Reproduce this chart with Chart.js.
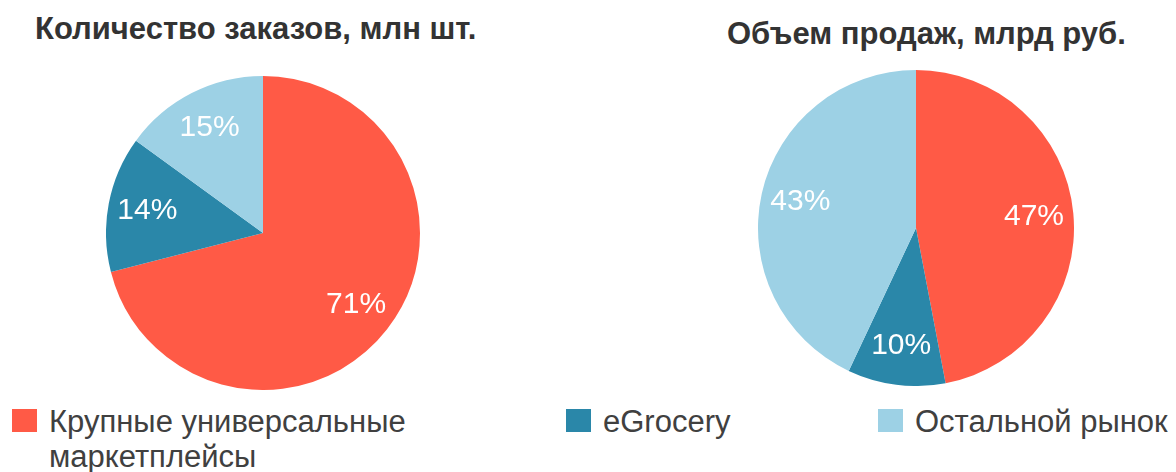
<!DOCTYPE html>
<html>
<head>
<meta charset="utf-8">
<script src="https://cdn.jsdelivr.net/npm/chart.js@4.4.0/dist/chart.umd.min.js"></script>
<style>
  body { margin: 0; background: #fff; font-family: "Liberation Sans", Arial, sans-serif; }
  #wrap { position: relative; width: 1176px; height: 472px; overflow: hidden; }
  .title { position: absolute; font-weight: bold; font-size: 31px; color: #333; white-space: nowrap; line-height: 1; }
  .box { position: absolute; }
  .legend { position: absolute; font-size: 31px; color: #404040; line-height: 35px; }
  .legend span.sq { position: absolute; left: 0; top: 5px; width: 25px; height: 23px; }
  .legend span.tx { position: absolute; white-space: nowrap; }
</style>
</head>
<body>
<div id="wrap">
  <div class="title" id="t1" style="left:35px; top:13px;"></div>
  <div class="title" id="t2" style="left:727px; top:18px;"></div>
  <div class="box" style="left:106px; top:76px; width:314px; height:314px;"><canvas id="orders"></canvas></div>
  <div class="box" style="left:758px; top:70px; width:316px; height:316px;"><canvas id="sales"></canvas></div>
  <div id="legend"></div>
</div>
<script>
const titles = ["Количество заказов, млн шт.", "Объем продаж, млрд руб."];
const categories = ["Крупные универсальные маркетплейсы", "eGrocery", "Остальной рынок"];
const ordersShare = [71, 14, 15];
const salesShare = [47, 10, 43];
const colors = ["#FF5A46", "#2A87A9", "#9DD1E5"];

document.getElementById("t1").textContent = titles[0];
document.getElementById("t2").textContent = titles[1];

// легенда снизу, общая для двух графиков
const legendPos = [
  { left: 12, width: 420 },
  { left: 566, width: 250 },
  { left: 878, width: 300 },
];
const legend = document.getElementById("legend");
categories.forEach((name, i) => {
  const item = document.createElement("div");
  item.className = "legend";
  item.style.left = legendPos[i].left + "px";
  item.style.top = "404px";
  item.style.width = legendPos[i].width + "px";
  const sq = document.createElement("span");
  sq.className = "sq";
  sq.style.background = colors[i];
  const tx = document.createElement("span");
  tx.className = "tx";
  tx.style.left = "37px";
  tx.innerHTML = i === 0 ? "Крупные универсальные<br>маркетплейсы" : name;
  item.appendChild(sq);
  item.appendChild(tx);
  legend.appendChild(item);
});

// подписи процентов внутри секторов
const sliceLabels = {
  id: "sliceLabels",
  afterDatasetsDraw(chart) {
    const ctx = chart.ctx;
    const data = chart.data.datasets[0].data;
    chart.getDatasetMeta(0).data.forEach((arc, i) => {
      const mid = (arc.startAngle + arc.endAngle) / 2;
      const r = arc.outerRadius * 0.75;
      const x = arc.x + Math.cos(mid) * r;
      const y = arc.y + Math.sin(mid) * r;
      ctx.save();
      ctx.fillStyle = "#fff";
      ctx.font = "30px 'Liberation Sans', Arial, sans-serif";
      ctx.textAlign = "center";
      ctx.textBaseline = "middle";
      ctx.fillText(data[i] + "%", x, y);
      ctx.restore();
    });
  },
};

function makePie(id, values) {
  const ctx = document.getElementById(id).getContext("2d");
  return new Chart(ctx, {
    type: "pie",
    data: {
      labels: categories,
      datasets: [{
        data: values,
        backgroundColor: colors,
        borderWidth: 0,
        hoverOffset: 0,
      }],
    },
    options: {
      responsive: true,
      maintainAspectRatio: false,
      animation: false,
      layout: { padding: 0 },
      plugins: {
        legend: { display: false },
        tooltip: { enabled: false },
      },
    },
    plugins: [sliceLabels],
  });
}

makePie("orders", ordersShare);
makePie("sales", salesShare);
</script>
</body>
</html>
